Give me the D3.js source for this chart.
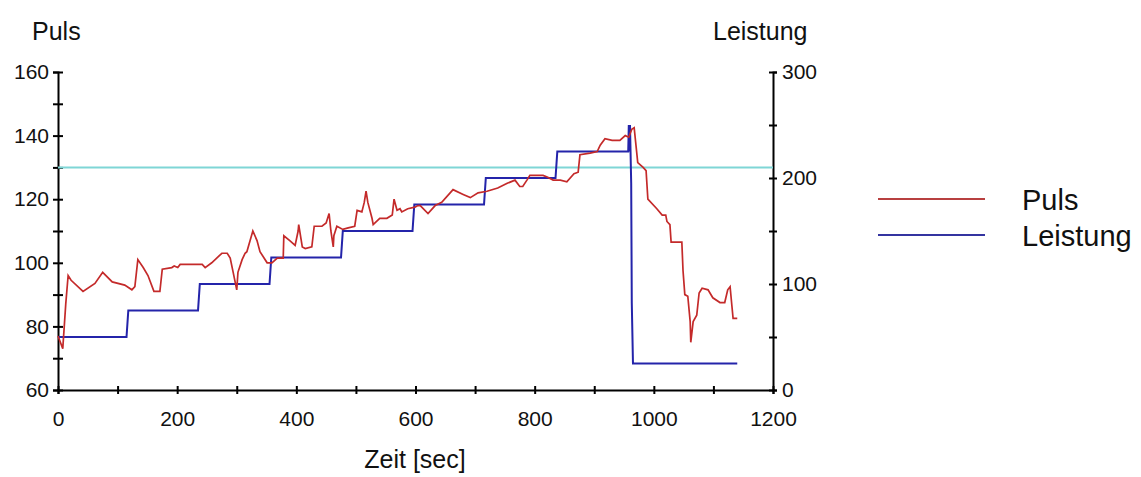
<!DOCTYPE html>
<html>
<head>
<meta charset="utf-8">
<script src="https://cdn.jsdelivr.net/npm/d3@7"></script>
<style>
  body { margin: 0; background: #fff; }
  svg { display: block; font-family: "Liberation Sans", Arial, sans-serif; }
  .achse path, .achse line { stroke: #000; stroke-width: 2; }
  .achse text { font-size: 21px; fill: #111; }
</style>
</head>
<body>
<svg id="chart" width="1141" height="477"></svg>
<script>
// Puls-Messung (Zeit in sec, Puls in 1/min)
const pulsZeit = [0, 8, 13, 17, 22, 42, 62, 75, 91, 112, 124, 129, 134, 143, 151, 161, 171, 175, 191, 195,
  201, 205, 242, 247, 258, 275, 284, 289, 294, 300, 302, 309, 314, 317, 327, 334, 339, 351, 359, 368,
  378, 379, 389, 398, 403, 404, 410, 415, 426, 430, 443, 450, 455, 458, 462, 463, 468, 478, 487, 498,
  502, 510, 514, 517, 520, 527, 529, 540, 552, 561, 564, 569, 574, 577, 587, 599, 604, 608, 621, 633,
  644, 663, 680, 692, 705, 720, 738, 754, 767, 775, 780, 787, 792, 814, 821, 831, 843, 854, 866, 873,
  876, 893, 905, 910, 918, 930, 943, 952, 958, 963, 967, 970, 973, 982, 987, 990, 1005, 1014, 1020, 1022,
  1027, 1029, 1047, 1049, 1052, 1057, 1061, 1062, 1066, 1072, 1076, 1081, 1091, 1099, 1111, 1119, 1124, 1128, 1131, 1133,
  1140];
const pulsWert = [77, 73, 87, 96, 94.5, 91, 93.5, 97, 94, 93, 91.5, 92.5, 101, 98.5, 96, 91, 91, 98, 98.5, 99,
  98.5, 99.5, 99.5, 98.5, 100, 103, 103, 101.5, 97, 91.5, 97, 101, 103, 103.5, 110, 107, 103.5, 100, 100, 101.5,
  101.5, 108.5, 107, 105.5, 110, 112, 105, 104.5, 105, 111.5, 111.5, 112.5, 115.5, 110, 105, 108.5, 111.5, 110.5, 111, 111.5,
  116.5, 116, 119, 122.5, 119, 114, 112, 114, 114, 115, 120, 116.5, 117, 116, 117, 117.5, 118, 118, 115.5, 118,
  119, 123, 121.5, 120.5, 122, 122.5, 123.5, 125, 126, 124, 124, 126, 127.5, 127.5, 127, 126, 126, 125.5, 128, 128.5,
  134, 134.5, 135, 137, 139, 138.5, 138.5, 140, 139.5, 142, 142.5, 137, 131.5, 130, 129, 120, 117, 115, 115, 113,
  112, 106.5, 106.5, 97.5, 90, 89.5, 81.5, 75, 81.5, 83.5, 90.5, 92, 91.5, 89, 87.5, 87.5, 91.5, 92.5, 86.5, 82.5,
  82.5];

// Leistung (Watt), Stufen alle 2 Minuten
const leistungZeit = [0, 115, 118, 235, 238, 355, 358, 475, 478, 595, 598, 715, 718, 835, 838, 957, 958, 958.5, 959, 959.5, 960, 962, 963, 965, 1140];
const leistungWert = [50, 50, 75, 75, 100, 100, 125, 125, 150, 150, 175, 175, 200, 200, 225, 225, 250, 225, 250, 225, 250, 195, 82, 25, 25];

// Schwelle (Puls)
const schwelle = 130;

const xTicks = d3.range(0, 1201, 100);
const xLabels = [0, 200, 400, 600, 800, 1000, 1200];
const pulsTicks = d3.range(60, 161, 10);
const pulsLabels = [60, 80, 100, 120, 140, 160];
const leistungTicks = d3.range(0, 301, 50);
const leistungLabels = [0, 100, 200, 300];

const svg = d3.select('#chart');
const x = d3.scaleLinear().domain([0, 1200]).range([58, 773]);
const yP = d3.scaleLinear().domain([60, 160]).range([390, 72]);
const yL = d3.scaleLinear().domain([0, 300]).range([390, 72]);

// Achsen
const gL = svg.append('g').attr('class', 'achse').attr('transform', 'translate(58,0)')
  .call(d3.axisLeft(yP).tickValues(pulsTicks).tickSizeOuter(0).tickSize(5).tickPadding(4)
    .tickFormat(d => pulsLabels.includes(d) ? d : ''));
gL.selectAll('.tick line').attr('x1', 5);

const gR = svg.append('g').attr('class', 'achse').attr('transform', 'translate(773,0)')
  .call(d3.axisRight(yL).tickValues(leistungTicks).tickSizeOuter(0).tickSize(4).tickPadding(5)
    .tickFormat(d => leistungLabels.includes(d) ? d : ''));
gR.selectAll('.tick line').attr('x1', -4);

const gX = svg.append('g').attr('class', 'achse').attr('transform', 'translate(0,390)')
  .call(d3.axisBottom(x).tickValues(xTicks).tickSizeOuter(0).tickSize(4).tickPadding(25)
    .tickFormat(d => xLabels.includes(d) ? d : ''));
gX.selectAll('.tick line').attr('y1', -4);
gX.selectAll('.tick text').attr('dy', '0.35em');
svg.selectAll('.achse .domain').attr('stroke', '#000');

// Schwellenlinie
svg.append('line')
  .attr('x1', x(0)).attr('x2', x(1200))
  .attr('y1', yP(schwelle)).attr('y2', yP(schwelle))
  .attr('stroke', '#7fd6d6').attr('stroke-width', 2);

// Linien
const linieL = d3.line().x(i => x(leistungZeit[i])).y(i => yL(leistungWert[i]));
svg.append('path')
  .attr('d', linieL(d3.range(leistungZeit.length)))
  .attr('fill', 'none').attr('stroke', '#2424aa').attr('stroke-width', 2);

const linieP = d3.line().x(i => x(pulsZeit[i])).y(i => yP(pulsWert[i]));
svg.append('path')
  .attr('d', linieP(d3.range(pulsZeit.length)))
  .attr('fill', 'none').attr('stroke', '#c42a2a').attr('stroke-width', 1.7);

// Titel
svg.append('text').attr('x', 32).attr('y', 40).attr('font-size', 25).attr('fill', '#111').text('Puls');
svg.append('text').attr('x', 713).attr('y', 40).attr('font-size', 25).attr('fill', '#111').text('Leistung');
svg.append('text').attr('x', 415).attr('y', 468).attr('text-anchor', 'middle')
  .attr('font-size', 25).attr('fill', '#111').text('Zeit [sec]');

// Legende
const legende = [
  { name: 'Puls', farbe: '#b84040', y: 199 },
  { name: 'Leistung', farbe: '#3434a0', y: 235 }
];
legende.forEach(l => {
  svg.append('line').attr('x1', 878).attr('x2', 985).attr('y1', l.y).attr('y2', l.y)
    .attr('stroke', l.farbe).attr('stroke-width', 2);
  svg.append('text').attr('x', 1022).attr('y', l.y + 11).attr('font-size', 29)
    .attr('fill', '#111').text(l.name);
});
</script>
</body>
</html>
